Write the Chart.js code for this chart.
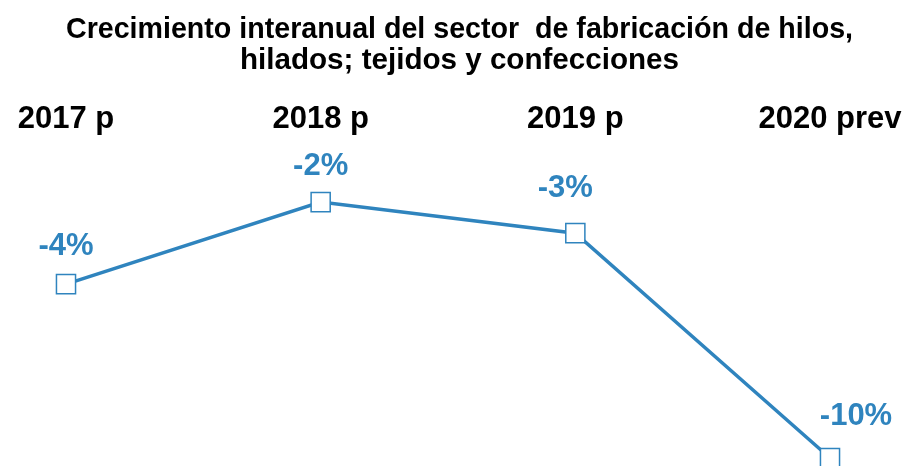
<!DOCTYPE html>
<html>
<head>
<meta charset="utf-8">
<script src="https://cdn.jsdelivr.net/npm/chart.js@4"></script>
<style>
  html, body { margin: 0; padding: 0; background: #fff; overflow: hidden; }
  #wrap { width: 909px; height: 466px; }
</style>
</head>
<body>
<div id="wrap"><canvas id="growthChart"></canvas></div>
<script>
// Datos
const years = ['2017 p', '2018 p', '2019 p', '2020 prev'];
const growth = [-4.4, -1.6, -2.66, -10.34];
const titleLines = ['Crecimiento interanual del sector  de fabricación de hilos,', 'hilados; tejidos y confecciones'];

const blue = '#2F84BE';
const fontFamily = '"Liberation Sans", Arial, sans-serif';

// Etiquetas de valor encima de cada punto
const valueLabels = {
    id: 'valueLabels',
    afterDatasetsDraw(chart, args, opts) {
        const ctx = chart.ctx;
        const meta = chart.getDatasetMeta(0);
        ctx.save();
        ctx.font = 'bold 31px ' + fontFamily;
        ctx.fillStyle = blue;
        ctx.textAlign = 'center';
        ctx.textBaseline = 'middle';
        meta.data.forEach((pt, i) => {
            const off = opts.offsets[i] || [0, 40];
            const txt = Math.round(growth[i]) + '%';
            ctx.fillText(txt, pt.x + off[0], pt.y - off[1]);
        });
        ctx.restore();
    }
};

new Chart(document.getElementById('growthChart'), {
    type: 'line',
    data: {
        labels: years,
        datasets: [{
            data: growth,
            borderColor: blue,
            borderWidth: 3.5,
            pointStyle: 'rect',
            pointRadius: 13.5,
            pointHoverRadius: 13.5,
            pointBackgroundColor: '#fff',
            pointBorderColor: blue,
            pointBorderWidth: 1.5,
            tension: 0,
            clip: false
        }]
    },
    options: {
        responsive: true,
        maintainAspectRatio: false,
        animation: false,
        layout: { padding: { left: 66, right: 56, top: 0, bottom: 0 } },
        scales: {
            x: {
                position: 'top',
                offset: false,
                grid: { display: false },
                border: { display: false },
                ticks: {
                    color: '#000',
                    padding: 6,
                    font: { family: fontFamily, size: 31, weight: 'bold' }
                }
            },
            y: {
                position: 'right',
                min: -10.1,
                max: 0.1,
                grid: { display: false },
                border: { display: false },
                ticks: { display: false },
                afterFit(scale) { scale.width = 23; }
            }
        },
        plugins: {
            legend: { display: false },
            tooltip: { enabled: false },
            title: {
                display: true,
                text: titleLines,
                color: '#000',
                padding: { top: 14, bottom: 19 },
                font: { family: fontFamily, size: 29.6, weight: 'bold', lineHeight: 1.05 }
            },
            valueLabels: {
                offsets: [[0, 38], [0, 36], [-10, 45], [26, 42]]
            }
        }
    },
    plugins: [valueLabels]
});
</script>
</body>
</html>
